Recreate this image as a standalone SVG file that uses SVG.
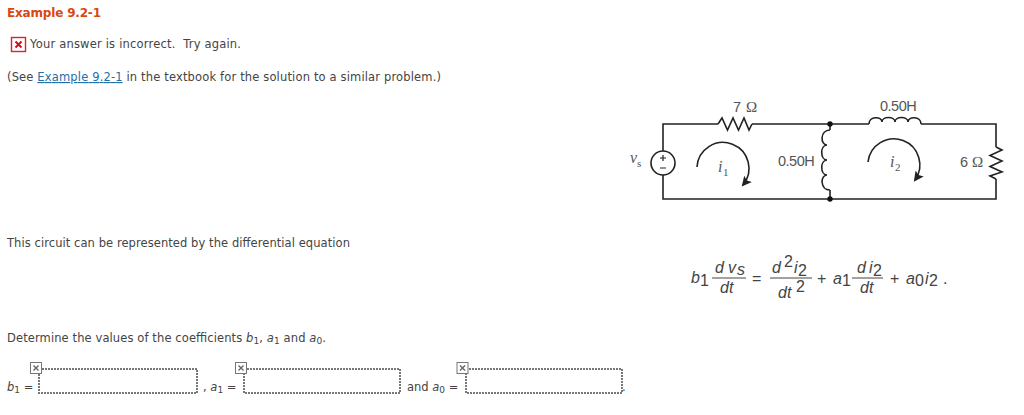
<svg xmlns="http://www.w3.org/2000/svg" width="1024" height="415" viewBox="0 0 1024 415">
<style>
.t{font-family:"DejaVu Sans",Verdana,sans-serif;font-size:11.5px;fill:#444}
.i{font-style:italic}
.c{font-family:"Liberation Sans",Arial,sans-serif;font-size:14.500px;fill:#555}
.o{font-family:"Liberation Serif",serif;font-size:15px;fill:#555}
.s{font-family:"Liberation Serif",serif;font-size:16px;font-style:italic;fill:#555}
.u{font-family:"Liberation Serif",serif;font-size:11px;fill:#555}
.e{font-family:"Liberation Sans",Arial,sans-serif;font-size:16px;fill:#444}
.w{fill:none;stroke:#222;stroke-width:1.600}
.b{stroke:#444;stroke-width:1;fill:none}
.box{fill:#fff;stroke:#777;stroke-width:2;stroke-dasharray:2 1}
.ic{fill:#fff;stroke:#777;stroke-width:1}
.x{stroke:#666;stroke-width:1.400}
</style>
<defs>
<marker id="ah" markerWidth="12" markerHeight="12" refX="8" refY="5" orient="auto" markerUnits="userSpaceOnUse"><path d="M0 0L10 5L0 10L2 5Z" fill="#222"/></marker>
</defs>
<rect width="1024" height="415" fill="#fff"/>
<g id="header">
<text x="7" y="17" font-family="DejaVu Sans,Verdana,sans-serif" font-size="12px" font-weight="bold" fill="#d9480f" textLength="94">Example 9.2-1</text>
<rect x="11.500" y="37.500" width="14" height="14" fill="#fff" stroke="#e0202a" stroke-width="1.400"/>
<path d="M15.500 41.500L21.500 47.500M21.500 41.500L15.500 47.500" stroke="#d01020" stroke-width="2"/>
<text class="t" x="30" y="48" textLength="211">Your answer is incorrect.&#160; Try again.</text>
<text class="t" x="7" y="81" textLength="434">(See <tspan fill="#1f6fa8" text-decoration="underline">Example 9.2-1</tspan> in the textbook for the solution to a similar problem.)</text>
</g>
<g id="connectors">
<path class="w" d="M663 151V124H718M752 124H869M921 124H996V147M996 179V199H663V175M830 124V130M830 190V199"/>
<path class="w" d="M697 167A26 26 0 1 1 743 185" marker-end="url(#ah)"/>
<path class="w" d="M868 162A26 26 0 1 1 915 180" marker-end="url(#ah)"/>
</g>
<g id="source">
<circle class="w" cx="663" cy="163" r="12"/>
<path d="M660 158H666M663 155V161M660 168H666" stroke="#222" stroke-width="1.200"/>
<text class="s" x="630" y="163">v</text><text class="u" x="637" y="167">s</text>
</g>
<g id="r1">
<path class="w" d="M718 124L722 118L727.500 130L733 118L738.500 130L744 118L749 130L752 124"/>
<text class="c" x="733" y="112">7</text><text class="o" x="746" y="112">Ω</text>
</g>
<g id="l1">
<path class="w" d="M830 130C820 130 820 145 827 145C820 145 820 160 827 160C820 160 820 175 827 175C820 175 820 190 830 190"/>
<text class="c" x="778" y="166" letter-spacing="-0.500">0.50H</text>
<circle cx="830" cy="124" r="2.700" fill="#111"/>
<circle cx="830" cy="199" r="2.700" fill="#111"/>
<text class="s" x="718" y="172">i</text><text class="u" x="723" y="176">1</text>
</g>
<g id="l2">
<path class="w" d="M869 124C869 116 882 116 882 122C882 116 895 116 895 122C895 116 908 116 908 122C908 116 921 116 921 124"/>
<text class="c" x="880" y="111" letter-spacing="-0.500">0.50H</text>
<text class="s" x="890" y="167">i</text><text class="u" x="895" y="171">2</text>
</g>
<g id="r2">
<path class="w" d="M996 147L1002 150L990 155.500L1002 161L990 166.500L1002 172L990 176L996 179"/>
<text class="c" x="960" y="167">6</text><text class="o" x="972" y="167">Ω</text>
</g>
<g id="equation">
<text class="e i" x="691" y="283">b</text><text class="e" x="700" y="286">1</text>
<text class="e i" x="715" y="273">d</text><text class="e i" x="728" y="273">v</text><text class="e i" x="737" y="275" font-size="13px">s</text>
<path class="b" d="M712 278H746"/>
<text class="e i" x="720" y="293">dt</text>
<text class="e" x="752" y="284">=</text>
<text class="e i" x="772" y="273">d</text><text class="e" x="784" y="267">2</text><text class="e i" x="794" y="273">i</text><text class="e" x="798" y="276">2</text>
<path class="b" d="M770 278H812"/>
<text class="e i" x="778" y="298">dt</text><text class="e" x="796" y="292">2</text>
<text class="e" x="817" y="284">+</text>
<text class="e i" x="833" y="284">a</text><text class="e" x="842" y="286">1</text>
<text class="e i" x="857" y="273">d</text><text class="e i" x="869" y="273">i</text><text class="e" x="873" y="276">2</text>
<path class="b" d="M852 278H883"/>
<text class="e i" x="860" y="293">dt</text>
<text class="e" x="890" y="284">+</text>
<text class="e i" x="906" y="284">a</text><text class="e" x="915" y="286">0</text>
<text class="e i" x="925" y="284">i</text><text class="e" x="929" y="286">2</text>
<text class="e" x="943" y="284">.</text>
</g>
<text class="t" x="7" y="247" textLength="343">This circuit can be represented by the differential equation</text>
<text class="t" x="7" y="342" textLength="319">Determine the values of the coefficients <tspan class="i">b</tspan><tspan font-size="9px" dy="2">1</tspan><tspan dy="-2">, </tspan><tspan class="i">a</tspan><tspan font-size="9px" dy="2">1</tspan><tspan dy="-2"> and </tspan><tspan class="i">a</tspan><tspan font-size="9px" dy="2">0</tspan><tspan dy="-2">.</tspan></text>
<g id="input-b1">
<text class="t" x="7" y="391"><tspan class="i">b</tspan><tspan font-size="9px" dy="2">1</tspan><tspan dy="-2"> =</tspan></text>
<rect class="box" x="39" y="369" width="158" height="24"/>
<rect class="ic" x="30.500" y="362.500" width="11" height="11"/><path class="x" d="M33.500 365.500L38.500 370.500M38.500 365.500L33.500 370.500"/>
</g>
<g id="input-a1">
<text class="t" x="203" y="391">, <tspan class="i">a</tspan><tspan font-size="9px" dy="2">1</tspan><tspan dy="-2"> =</tspan></text>
<rect class="box" x="244" y="369" width="156" height="24"/>
<rect class="ic" x="235.500" y="362.500" width="11" height="11"/><path class="x" d="M238.500 365.500L243.500 370.500M243.500 365.500L238.500 370.500"/>
</g>
<g id="input-a0">
<text class="t" x="407" y="391">and <tspan class="i">a</tspan><tspan font-size="9px" dy="2">0</tspan><tspan dy="-2"> =</tspan></text>
<rect class="box" x="466" y="369" width="156" height="24"/>
<rect class="ic" x="457" y="362.500" width="11" height="11"/><path class="x" d="M460 365.500L465 370.500M465 365.500L460 370.500"/>
<text class="t" x="622" y="391">.</text>
</g>
</svg>
